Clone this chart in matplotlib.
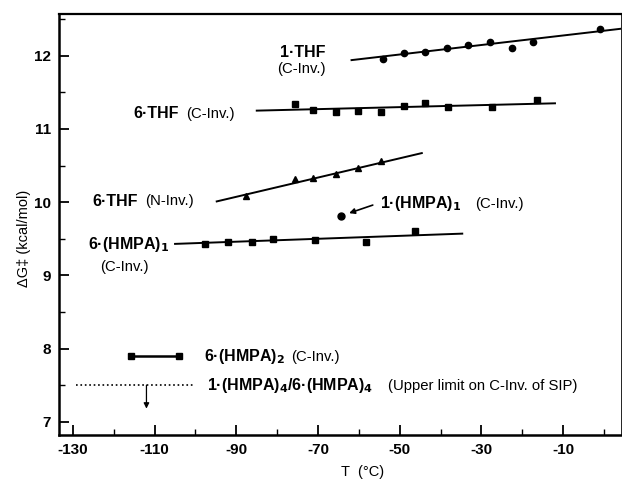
import matplotlib
matplotlib.use('Agg')
import matplotlib.pyplot as plt
from matplotlib.ticker import MultipleLocator

plt.rcParams['font.family'] = ['Liberation Sans', 'DejaVu Sans']
plt.rcParams['axes.unicode_minus'] = False

# 1.THF (C-Inv.)
thf1_T = [-54.2, -49.0, -43.8, -38.5, -33.2, -27.9, -22.6, -17.3, -1.0]
thf1_G = [11.96, 12.04, 12.05, 12.10, 12.14, 12.19, 12.11, 12.19, 12.36]
thf1_fitT = [-61.8, 4.4]
thf1_fitG = [11.94, 12.37]

# 6.THF (C-Inv.)
thf6c_T = [-75.7, -71.2, -65.6, -60.2, -54.6, -49.0, -43.7, -38.1, -27.3, -16.3]
thf6c_G = [11.34, 11.26, 11.23, 11.25, 11.23, 11.31, 11.36, 11.30, 11.30, 11.39]
thf6c_fitT = [-85.0, -12.0]
thf6c_fitG = [11.25, 11.35]

# 6.THF (N-Inv.)
thf6n_T = [-87.7, -75.7, -71.2, -65.6, -60.2, -54.6]
thf6n_G = [10.09, 10.32, 10.33, 10.39, 10.47, 10.56]
thf6n_fitT = [-94.8, -44.6]
thf6n_fitG = [10.01, 10.67]

# 6.(HMPA)1 (C-Inv.)
hmpa6_T = [-97.7, -92.0, -86.1, -81.1, -70.8, -58.3, -46.3]
hmpa6_G = [9.43, 9.46, 9.45, 9.50, 9.48, 9.45, 9.60]
hmpa6_fitT = [-105.0, -34.7]
hmpa6_fitG = [9.43, 9.57]

# 1.(HMPA)1 single point
hmpa1_T = [-64.5]
hmpa1_G = [9.81]

# 6.(HMPA)2
hmpa62_T = [-115.8, -104.0]
hmpa62_G = [7.90, 7.90]

# upper limit 1.(HMPA)4/6.(HMPA)4
lim_T = [-129.3, -100.1]
lim_G = [7.50, 7.50]
lim_arrowT = -112.0
lim_arrowG = 7.18

fig = plt.figure(figsize=(6.22, 4.79), dpi=100)
ax = fig.add_axes([0.0949, 0.0919, 0.9031, 0.8789])

lw = 1.4
ax.plot(thf1_fitT, thf1_fitG, color='black', lw=lw)
ax.plot(thf1_T, thf1_G, 'o', color='black', ms=4.5)
ax.plot(thf6c_fitT, thf6c_fitG, color='black', lw=lw)
ax.plot(thf6c_T, thf6c_G, 's', color='black', ms=4.2)
ax.plot(thf6n_fitT, thf6n_fitG, color='black', lw=lw)
ax.plot(thf6n_T, thf6n_G, '^', color='black', ms=4.5)
ax.plot(hmpa6_fitT, hmpa6_fitG, color='black', lw=lw)
ax.plot(hmpa6_T, hmpa6_G, 's', color='black', ms=4.2)
ax.plot(hmpa1_T, hmpa1_G, 'o', color='black', ms=5)
ax.plot(hmpa62_T, hmpa62_G, '-', color='black', lw=1.8)
ax.plot(hmpa62_T, hmpa62_G, 's', color='black', ms=4.5)
ax.plot(lim_T, lim_G, ':', color='black', lw=1.2)
ax.annotate('', xy=(lim_arrowT, lim_arrowG), xytext=(lim_arrowT, lim_G[0]),
            arrowprops=dict(arrowstyle='-|>', color='black', lw=0.9,
                            mutation_scale=8, shrinkA=0, shrinkB=0))
ax.annotate('', xy=(-62.4, 9.85), xytext=(-56.6, 9.96),
            arrowprops=dict(arrowstyle='-|>', color='black', lw=1.2,
                            mutation_scale=8, shrinkA=0, shrinkB=0))

# labels
bold = dict(fontsize=11.5, fontweight='bold', color='black')
reg = dict(fontsize=10.7, color='black')
ax.text(-73.8, 12.05, '1·THF', ha='center', va='center', **bold)
ax.text(-74.1, 11.82, '(C-Inv.)', ha='center', va='center', **reg)
ax.text(-115.3, 11.21, '6·THF', ha='left', va='center', **bold)
ax.text(-102.3, 11.21, '(C-Inv.)', ha='left', va='center', **reg)
ax.text(-125.2, 10.01, '6·THF', ha='left', va='center', **bold)
ax.text(-112.3, 10.01, '(N-Inv.)', ha='left', va='center', **reg)
ax.text(-54.8, 9.98, '1·(HMPA)$_\\mathbf{1}$', ha='left', va='center', **bold)
ax.text(-31.5, 9.98, '(C-Inv.)', ha='left', va='center', **reg)
ax.text(-126.3, 9.42, '6·(HMPA)$_\\mathbf{1}$', ha='left', va='center', **bold)
ax.text(-117.5, 9.12, '(C-Inv.)', ha='center', va='center', **reg)
ax.text(-97.9, 7.89, '6·(HMPA)$_\\mathbf{2}$', ha='left', va='center', **bold)
ax.text(-76.5, 7.89, '(C-Inv.)', ha='left', va='center', **reg)
ax.text(-97.3, 7.49, '1·(HMPA)$_\\mathbf{4}$/6·(HMPA)$_\\mathbf{4}$', ha='left', va='center', **bold)
ax.text(-52.8, 7.49, '(Upper limit on C-Inv. of SIP)', ha='left', va='center', **reg)

ax.set_xlim(-133.4, 4.1)
ax.set_ylim(6.82, 12.57)
ax.xaxis.set_minor_locator(MultipleLocator(10))
ax.set_xticks([-130, -110, -90, -70, -50, -30, -10])
ax.yaxis.set_major_locator(MultipleLocator(1))
ax.yaxis.set_minor_locator(MultipleLocator(0.5))
ax.tick_params(which='major', direction='in', length=7, width=1.3,
               labelsize=11, pad=6)
ax.tick_params(which='minor', direction='in', length=4, width=1.0)
for lab in ax.get_xticklabels() + ax.get_yticklabels():
    lab.set_fontweight('bold')

for s in ['left', 'bottom']:
    ax.spines[s].set_linewidth(1.8)
ax.spines['top'].set_linewidth(1.6)
ax.spines['right'].set_linewidth(0.6)

ax.set_xlabel('T  (°C)', fontsize=10.5)
ax.xaxis.set_label_coords(0.541, -0.071)
ax.set_ylabel('ΔG‡ (kcal/mol)', fontsize=10.5)
ax.yaxis.set_label_coords(-0.05, 0.468)

fig.savefig('out.png', dpi=100)
